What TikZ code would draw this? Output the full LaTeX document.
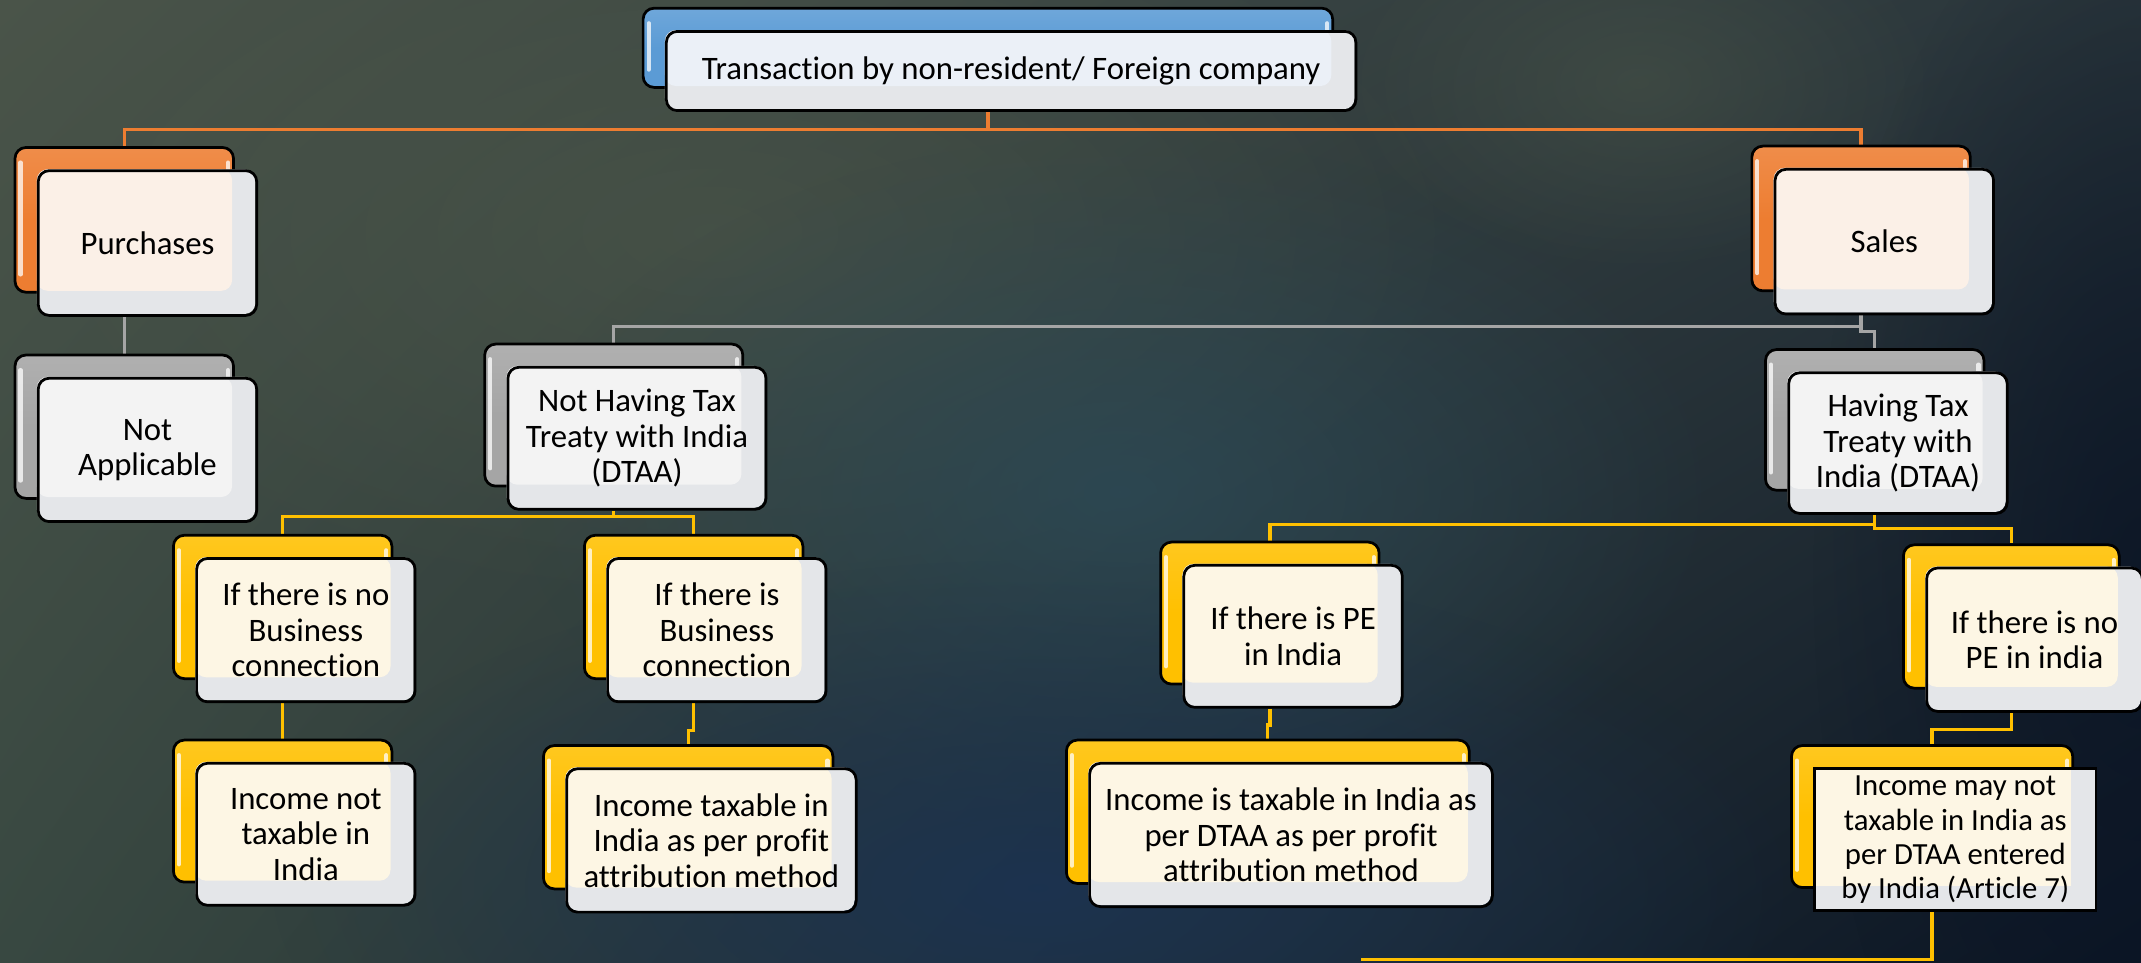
\documentclass[tikz,border=0pt]{standalone}
\usepackage{fontspec}
\setmainfont{Carlito}[Ligatures={NoCommon}]
\usetikzlibrary{calc,fadings,shadings}
\tikzfading[name=softglow, inner color=transparent!0, outer color=transparent!100]
\pgfdeclarelayer{bglayer}
\pgfdeclarelayer{connlayer}
\pgfsetlayers{bglayer,connlayer,main}
\definecolor{cOrange}{HTML}{ED7D31}
\definecolor{cBlue}{HTML}{5B9BD5}
\definecolor{cGray}{HTML}{A5A5A5}
\definecolor{cYellow}{HTML}{FFC000}
\definecolor{tOrange}{HTML}{FBF0E7}
\definecolor{tBlue}{HTML}{EBF0F7}
\definecolor{tGray}{HTML}{F3F3F3}
\definecolor{tYellow}{HTML}{FDF6E4}
\definecolor{band}{HTML}{E4E6E9}
\definecolor{bgUL}{HTML}{4A5449}
\definecolor{bgUR}{HTML}{2A363C}
\definecolor{bgLL}{HTML}{384841}
\definecolor{bgLR}{HTML}{0B1525}
\definecolor{bgTeal}{HTML}{2C4A57}
\definecolor{bgNavy}{HTML}{1B3352}
\definecolor{bgGreen}{HTML}{4C5749}
\tikzset{
  backbox/.style={draw=black, line width=2pt, rounded corners=8pt, inner sep=0pt, anchor=north west},
  frontbox/.style={draw=black, line width=2pt, rounded corners=8pt, inner sep=0pt, anchor=north west,
    align=center, font=\fontsize{24}{26}\selectfont, text=black},
  smallfront/.style={sharp corners, font=\fontsize{22.5}{25}\selectfont},
  conn/.style={line width=2.4pt},
  gloss/.style={white, opacity=0.75, line width=3pt, line cap=round},
}
% #1 name, #2 x, #3 y (top-left of back box, picture px, y down), #4 width, #5 height,
% #6 colour, #7 tint, #8 text, #9 extra style for the front box
\newcommand{\SmartBox}[9]{%
  \node[backbox, minimum width=#4pt, minimum height=#5pt,
        top color=#6!88!white, bottom color=#6, middle color=#6] (#1b) at (#2,-#3) {};
  \draw[gloss] ($(#1b.north west)+(5,-12)$) -- ($(#1b.south west)+(5,14)$);
  \draw[gloss] ($(#1b.north east)+(-5,-12)$) -- ($(#1b.north east)+(-5,-24)$);
  \fill[band, rounded corners=8pt, #9] ({#2+17},{-#3-17}) rectangle ({#2+17+#4},{-#3-17-#5});
  \fill[#7, rounded corners=8pt, #9] ({#2+17},{-#3-17}) rectangle ({#2+#4},{-#3-#5});
  \node[frontbox, minimum width=#4pt, minimum height=#5pt, #9] (#1) at ({#2+17},{-#3-17}) {#8};
}
\begin{document}
\begin{tikzpicture}[x=1pt,y=1pt]
\useasboundingbox (0,0) rectangle (1568,-705);
\begin{pgfonlayer}{bglayer}
\shade[upper left=bgUL, upper right=bgUR, lower left=bgLL, lower right=bgLR] (0,0) rectangle (1568,-705);
\fill[bgGreen, opacity=0.6, path fading=softglow] (520,-170) ellipse (560 and 280);
\fill[bgGreen, opacity=0.5, path fading=softglow] (1200,-60) ellipse (220 and 140);
\fill[bgTeal, opacity=0.8, path fading=softglow] (820,-360) ellipse (440 and 260);
\fill[bgNavy, opacity=0.9, path fading=softglow] (760,-650) ellipse (560 and 240);
\fill[bgLR, opacity=0.8, path fading=softglow] (1568,-420) ellipse (240 and 520);
\end{pgfonlayer}

\SmartBox{root}{470}{5}{505}{58}{cBlue}{tBlue}{Transaction by non-resident/ Foreign company}{}
\SmartBox{purch}{10}{107}{160}{106}{cOrange}{tOrange}{Purchases}{}
\SmartBox{sales}{1282}{106}{160}{106}{cOrange}{tOrange}{Sales}{}
\SmartBox{na}{10}{259}{160}{105}{cGray}{tGray}{Not\\Applicable}{}
\SmartBox{nt}{354}{251}{189}{104}{cGray}{tGray}{Not Having Tax\\Treaty with India\\(DTAA)}{}
\SmartBox{tr}{1292}{255}{160}{103}{cGray}{tGray}{Having Tax\\Treaty with\\India (DTAA)}{}
\SmartBox{nobc}{126}{391}{160}{105}{cYellow}{tYellow}{If there is no\\Business\\connection}{}
\SmartBox{bc}{427}{391}{160}{105}{cYellow}{tYellow}{If there is\\Business\\connection}{}
\SmartBox{pe}{849}{396}{160}{104}{cYellow}{tYellow}{If there is PE\\in India}{}
\SmartBox{nope}{1393}{398}{158}{105}{cYellow}{tYellow}{If there is no\\PE in india}{}
\SmartBox{notax}{126}{541}{160}{104}{cYellow}{tYellow}{Income not\\taxable in\\India}{}
\SmartBox{taxbc}{397}{545}{212}{105}{cYellow}{tYellow}{Income taxable in\\India as per profit\\attribution method}{}
\SmartBox{taxpe}{780}{541}{295}{105}{cYellow}{tYellow}{Income is taxable in India as\\per DTAA as per profit\\attribution method}{}
\SmartBox{maynot}{1311}{545}{206}{104}{cYellow}{tYellow}{Income may not\\taxable in India as\\per DTAA entered\\by India (Article 7)}{smallfront}

\begin{pgfonlayer}{connlayer}
% orange
\draw[conn, cOrange] (rootb.center |- root.south) -- ++(0,-13) coordinate (o1) -| (purchb.north);
\draw[conn, cOrange] (o1) -| (salesb.north);
% gray
\draw[conn, cGray] (purchb.center |- purch.south) -- (nab.north);
\draw[conn, cGray] (salesb.center |- sales.south) -- ++(0,-8) coordinate (g1) -| (ntb.north);
\draw[conn, cGray] (g1) -- ++(0,-4) -| (trb.north);
% yellow, left
\draw[conn, cYellow] (ntb.center |- nt.south) -- ++(0,-4) coordinate (y1) -| (nobcb.north);
\draw[conn, cYellow] (y1) -| (bcb.north);
\draw[conn, cYellow] (nobcb.center |- nobc.south) -- (notaxb.north);
\draw[conn, cYellow] (bcb.center |- bc.south) -- ++(0,-20) -| (taxbcb.north);
% yellow, right
\draw[conn, cYellow] (trb.center |- tr.south) -- ++(0,-7) coordinate (y2) -| (peb.north);
\draw[conn, cYellow] (y2) -- ++(0,-3) -| (nopeb.north);
\draw[conn, cYellow] (peb.center |- pe.south) -- ++(0,-12) -| (taxpeb.north);
\draw[conn, cYellow] (nopeb.center |- nope.south) -- ++(0,-12) -| (maynotb.north);
\coordinate (tail) at (997,-702.5);
\draw[conn, cYellow] (maynotb.center |- maynot.south) |- (tail);
\end{pgfonlayer}
\end{tikzpicture}
\end{document}
